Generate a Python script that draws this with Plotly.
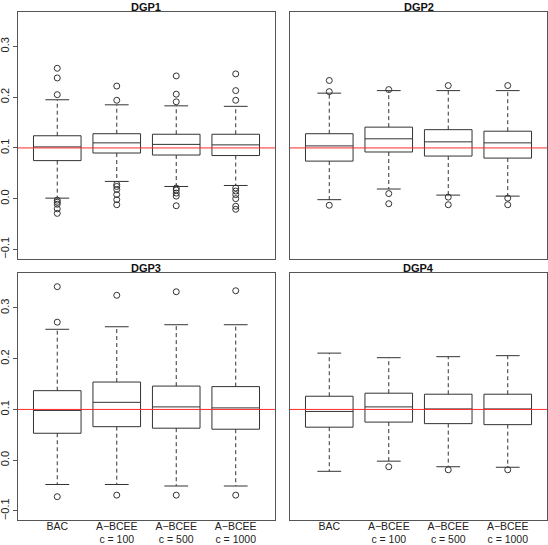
import plotly.graph_objects as go
from plotly.subplots import make_subplots

# ── Data ──────────────────────────────────────────────────────────────────────
PANELS = ["DGP1", "DGP2", "DGP3", "DGP4"]
METHODS = ["BAC", "A\u2212BCEE<br>c = 100", "A\u2212BCEE<br>c = 500",
           "A\u2212BCEE<br>c = 1000"]
POSITIONS = [1, 2, 3, 4]
TRUE_EFFECT = 0.1
Y_TICKS = [-0.1, 0.0, 0.1, 0.2, 0.3]

# one row per DGP panel, one column per method
WHISK_LO = [
    [0.001, 0.034, 0.024, 0.026],
    [-0.002, 0.019, 0.007, 0.005],
    [-0.048, -0.048, -0.051, -0.051],
    [-0.022, -0.002, -0.013, -0.014],
]
Q1 = [
    [0.075, 0.090, 0.086, 0.085],
    [0.074, 0.092, 0.084, 0.080],
    [0.053, 0.066, 0.063, 0.061],
    [0.065, 0.075, 0.072, 0.070],
]
MEDIAN = [
    [0.102, 0.110, 0.107, 0.106],
    [0.104, 0.118, 0.112, 0.110],
    [0.098, 0.114, 0.105, 0.103],
    [0.096, 0.105, 0.101, 0.101],
]
Q3 = [
    [0.124, 0.128, 0.127, 0.127],
    [0.128, 0.141, 0.136, 0.133],
    [0.137, 0.154, 0.146, 0.145],
    [0.126, 0.132, 0.130, 0.130],
]
WHISK_HI = [
    [0.195, 0.185, 0.183, 0.182],
    [0.208, 0.213, 0.213, 0.213],
    [0.258, 0.263, 0.267, 0.267],
    [0.211, 0.202, 0.204, 0.206],
]
OUTLIERS = [
    [[0.257, 0.238, 0.205, -0.003, -0.007, -0.011, -0.020, -0.029],
     [0.222, 0.194, 0.028, 0.024, 0.018, 0.008, -0.002, -0.012],
     [0.242, 0.206, 0.191, 0.021, 0.017, 0.011, 0.005, -0.014],
     [0.246, 0.213, 0.194, 0.021, 0.015, 0.008, 0.000, -0.015, -0.021]],
    [[0.233, 0.211, -0.013],
     [0.215, 0.010, -0.010],
     [0.223, 0.003, -0.012],
     [0.223, 0.001, -0.012]],
    [[0.342, 0.272, -0.072],
     [0.325, -0.069],
     [0.332, -0.069],
     [0.334, -0.069]],
    [[], [-0.013], [-0.019], [-0.019]],
]

INK = "#333333"
FRAME = "#555555"
BOX_W = 0.8
CAP_HALF = 0.2

fig = make_subplots(rows=2, cols=2, subplot_titles=PANELS,
                    horizontal_spacing=0.0284, vertical_spacing=0.0295)

for k in range(4):
    row, col = k // 2 + 1, k % 2 + 1

    # boxes (whiskers drawn separately so they can be dashed)
    fig.add_trace(go.Box(
        x=POSITIONS, q1=Q1[k], median=MEDIAN[k], q3=Q3[k],
        lowerfence=Q1[k], upperfence=Q3[k], width=BOX_W,
        fillcolor="white", line=dict(color=INK, width=1),
        whiskerwidth=0, boxpoints=False, showlegend=False, hoverinfo="skip",
    ), row=row, col=col)

    wx, wy, cx, cy, ox, oy = [], [], [], [], [], []
    for i, p in enumerate(POSITIONS):
        wx += [p, p, None, p, p, None]
        wy += [Q3[k][i], WHISK_HI[k][i], None, Q1[k][i], WHISK_LO[k][i], None]
        cx += [p - CAP_HALF, p + CAP_HALF, None, p - CAP_HALF, p + CAP_HALF, None]
        cy += [WHISK_HI[k][i], WHISK_HI[k][i], None,
               WHISK_LO[k][i], WHISK_LO[k][i], None]
        ox += [p] * len(OUTLIERS[k][i])
        oy += OUTLIERS[k][i]

    fig.add_trace(go.Scatter(x=wx, y=wy, mode="lines",
                             line=dict(color=INK, width=1, dash="4px,3px"),
                             showlegend=False, hoverinfo="skip"),
                  row=row, col=col)
    fig.add_trace(go.Scatter(x=cx, y=cy, mode="lines",
                             line=dict(color=INK, width=1),
                             showlegend=False, hoverinfo="skip"),
                  row=row, col=col)
    fig.add_trace(go.Scatter(x=ox, y=oy, mode="markers",
                             marker=dict(symbol="circle-open", size=6,
                                         color=INK, line=dict(width=1)),
                             showlegend=False, hoverinfo="skip"),
                  row=row, col=col)

    fig.add_hline(y=TRUE_EFFECT, line_color="#ff2a2a", line_width=1,
                  row=row, col=col)

    fig.update_xaxes(range=[0.34, 4.66], tickvals=POSITIONS,
                     ticktext=METHODS, showticklabels=(row == 2),
                     tickfont=dict(size=10.5), ticklabelstandoff=-4,
                     ticks="", showline=True, mirror=True, linecolor=FRAME,
                     linewidth=1, showgrid=False, zeroline=False,
                     automargin=False, row=row, col=col)
    fig.update_yaxes(range=[-0.118, 0.368], tickvals=Y_TICKS,
                     tickformat=".1f", tickangle=-90,
                     showticklabels=(col == 1),
                     ticks="outside" if col == 1 else "", ticklen=4,
                     tickcolor=FRAME, showline=True, mirror=True,
                     linecolor=FRAME, linewidth=1, showgrid=False,
                     zeroline=False, automargin=False, row=row, col=col)

# panel titles sit tight above each frame
fig.update_annotations(font=dict(size=11, color="#111111", weight="bold",
                                 family="Liberation Sans, Arial, sans-serif"),
                       borderpad=0, yshift=-2)

fig.update_layout(
    width=548, height=545,
    template="none",
    margin=dict(l=18, r=1, t=12, b=25),
    font=dict(family="Liberation Sans, Arial, sans-serif", size=11,
              color="#222222"),
    plot_bgcolor="white", paper_bgcolor="white",
    showlegend=False,
)

# page body has a default 8px margin; drop it so the figure fills the window
fig.write_html("out.html", config={"displayModeBar": False},
               post_script="document.body.style.margin = '0';")
